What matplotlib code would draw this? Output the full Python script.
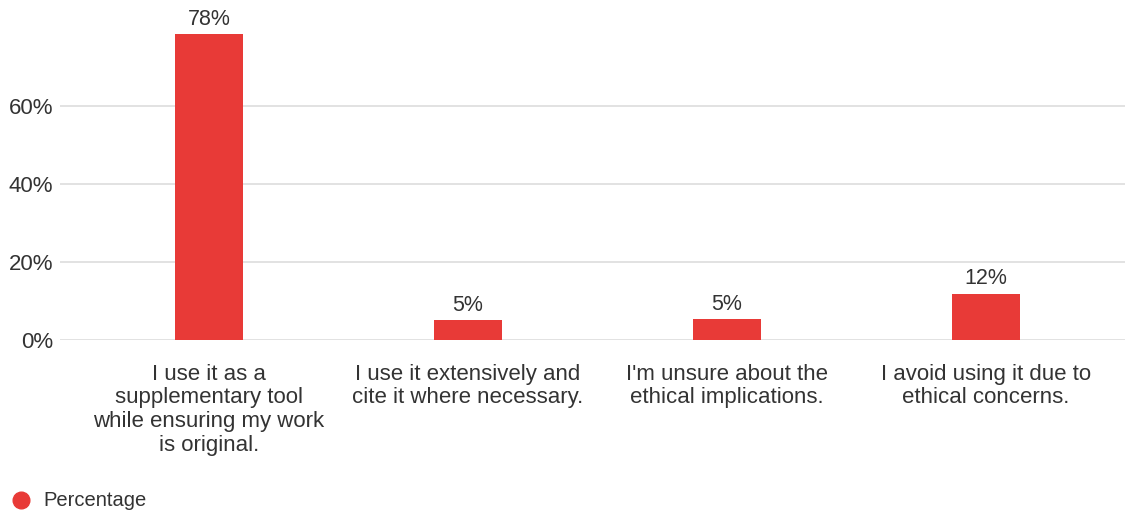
import numpy as np
import matplotlib
matplotlib.use("Agg")
import matplotlib.pyplot as plt
from matplotlib.lines import Line2D

plt.rcParams['font.family'] = ['Liberation Sans', 'DejaVu Sans']

# data
categories = [
    "I use it as a\nsupplementary tool\nwhile ensuring my work\nis original.",
    "I use it extensively and\ncite it where necessary.",
    "I'm unsure about the\nethical implications.",
    "I avoid using it due to\nethical concerns.",
]
percentages = [78.4, 5.2, 5.4, 11.9]
value_labels = ["78%", "5%", "5%", "12%"]
y_ticks = [0, 20, 40, 60]
y_tick_labels = ["0%", "20%", "40%", "60%"]
series_name = "Percentage"

bar_color = "#E83A37"
text_color = "#333333"
grid_color = "#DDDDDD"

fig = plt.figure(figsize=(11.25, 5.12), dpi=100)
# axes placed in pixels: left 60, right 1125, bottom at y=340, top at y=20
W, H = 1125, 512
ax = fig.add_axes([60 / W, (H - 340) / H, (1125 - 60) / W, (340 - 20) / H])

x = np.arange(len(categories))
bars = ax.bar(x, percentages, width=0.263, color=bar_color, zorder=3)

for rect, lab in zip(bars, value_labels):
    ax.annotate(lab, (rect.get_x() + rect.get_width() / 2, rect.get_height()),
                xytext=(0, 3), textcoords="offset points",
                ha="center", va="bottom", fontsize=15.5, color=text_color)

ax.set_xlim(-0.575, 3.537)
ax.set_ylim(0, 82)
ax.set_yticks(y_ticks)
ax.set_yticklabels(y_tick_labels)
ax.set_xticks(x)
ax.set_xticklabels(categories, linespacing=1.18)
ax.tick_params(axis="y", length=0, pad=5, labelsize=16, labelcolor=text_color)
ax.tick_params(axis="x", length=0, pad=17, labelsize=16, labelcolor=text_color)

ax.grid(axis="y", color=grid_color, linewidth=1.2, zorder=0)
for s in ax.spines.values():
    s.set_visible(False)

# legend: single red dot + series name, bottom left
fig.add_artist(Line2D([21 / W], [(H - 500) / H], transform=fig.transFigure,
                      marker="o", linestyle="none", markersize=12,
                      markerfacecolor=bar_color, markeredgecolor=bar_color))
fig.text(43 / W, (H - 500) / H, series_name, fontsize=14.5, color=text_color,
         ha="left", va="center")

fig.savefig("out.png", dpi=100)
